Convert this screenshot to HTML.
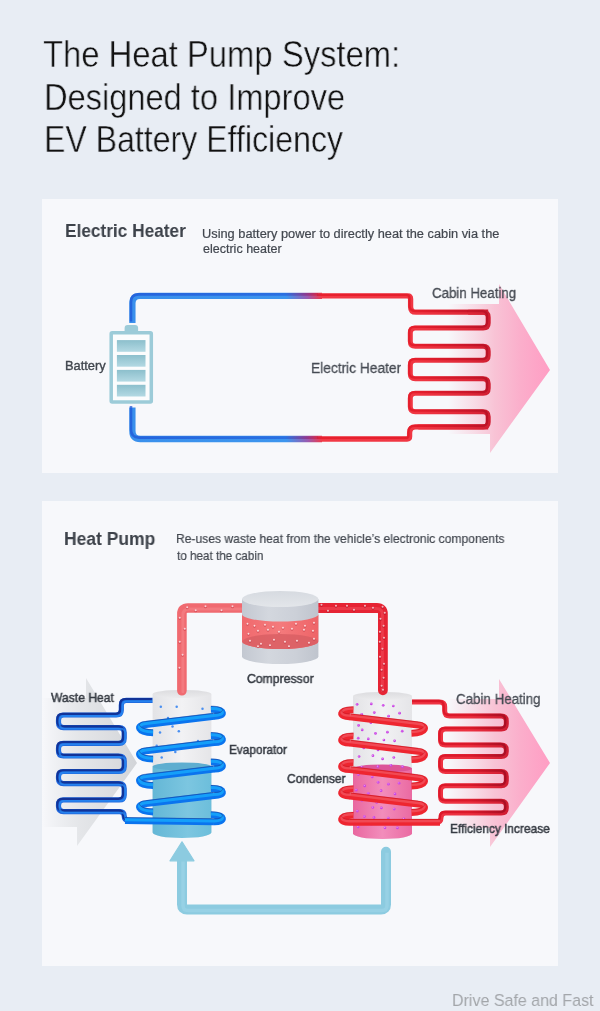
<!DOCTYPE html>
<html><head><meta charset="utf-8"><style>
html,body{margin:0;padding:0;background:#e8edf4;}
body{width:600px;height:1011px;background:#e8edf4;position:relative;overflow:hidden;font-family:"Liberation Sans",sans-serif;}
.panel{position:absolute;background:#f7f8fb;}
.t{position:absolute;white-space:nowrap;line-height:1;transform-origin:0 0;will-change:transform;}
svg{position:absolute;left:0;top:0;}
</style></head><body>
<div class="panel" style="left:42px;top:199px;width:516px;height:274px"></div>
<div class="panel" style="left:42px;top:501px;width:516px;height:465px"></div>
<svg width="600" height="1011" viewBox="0 0 600 1011"><defs><linearGradient id="gb" gradientUnits="userSpaceOnUse" x1="132" y1="0" x2="491" y2="0">
<stop offset="0" stop-color="#3a90ec"/><stop offset="0.43" stop-color="#3d95ee"/><stop offset="0.49" stop-color="#9a5ab0"/>
<stop offset="0.53" stop-color="#f23a46"/><stop offset="0.8" stop-color="#f03642"/><stop offset="0.93" stop-color="#e02838"/><stop offset="1" stop-color="#d01e32"/></linearGradient><linearGradient id="gd" gradientUnits="userSpaceOnUse" x1="132" y1="0" x2="491" y2="0">
<stop offset="0" stop-color="#1c52d6"/><stop offset="0.43" stop-color="#2260dc"/><stop offset="0.49" stop-color="#8a2a80"/>
<stop offset="0.53" stop-color="#e61c2a"/><stop offset="0.8" stop-color="#e21a28"/><stop offset="0.93" stop-color="#c81428"/><stop offset="1" stop-color="#b41024"/></linearGradient><linearGradient id="pink1" gradientUnits="userSpaceOnUse" x1="448" y1="0" x2="552" y2="0">
<stop offset="0" stop-color="#f8bdd0" stop-opacity="0"/><stop offset="0.25" stop-color="#f8c0d2" stop-opacity="0.5"/><stop offset="0.45" stop-color="#f8c0d3" stop-opacity="0.95"/>
<stop offset="0.7" stop-color="#fbaecb"/><stop offset="1" stop-color="#ff9cc3"/></linearGradient><linearGradient id="cell" x1="0" y1="0" x2="0" y2="1"><stop offset="0" stop-color="#8cbfcc"/><stop offset="1" stop-color="#b3d9e3"/></linearGradient><linearGradient id="gray" gradientUnits="userSpaceOnUse" x1="42" y1="0" x2="137" y2="0">
<stop offset="0" stop-color="#d6d8dc" stop-opacity="0"/><stop offset="0.4" stop-color="#dcdee1" stop-opacity="0.7"/><stop offset="1" stop-color="#d2d4d8"/></linearGradient><linearGradient id="rcb" gradientUnits="userSpaceOnUse" x1="412" y1="0" x2="508" y2="0">
<stop offset="0" stop-color="#f03846"/><stop offset="0.6" stop-color="#ec3040"/><stop offset="1" stop-color="#d01c32"/></linearGradient><linearGradient id="rcd" gradientUnits="userSpaceOnUse" x1="412" y1="0" x2="508" y2="0">
<stop offset="0" stop-color="#dc1426"/><stop offset="0.6" stop-color="#d81426"/><stop offset="1" stop-color="#a00c22"/></linearGradient><linearGradient id="whc" x1="0" y1="0" x2="1" y2="0"><stop offset="0" stop-color="#e3e3e6"/><stop offset="0.5" stop-color="#f2f2f4"/><stop offset="1" stop-color="#e5e5e8"/></linearGradient><linearGradient id="wtop" x1="0" y1="0" x2="0" y2="1"><stop offset="0" stop-color="#dcdcdf"/><stop offset="1" stop-color="#ebebed"/></linearGradient><linearGradient id="blc" x1="0" y1="0" x2="1" y2="0"><stop offset="0" stop-color="#64b7d6"/><stop offset="0.6" stop-color="#7cc6e0"/><stop offset="1" stop-color="#6cbedb"/></linearGradient><linearGradient id="pkc" x1="0" y1="0" x2="1" y2="0"><stop offset="0" stop-color="#e9679f"/><stop offset="0.5" stop-color="#f28dbb"/><stop offset="1" stop-color="#ea6aa2"/></linearGradient><linearGradient id="cylg" x1="0" y1="0" x2="1" y2="0"><stop offset="0" stop-color="#c3c8d1"/><stop offset="0.35" stop-color="#d3d7de"/><stop offset="0.7" stop-color="#ccd0d8"/><stop offset="1" stop-color="#bfc4cd"/></linearGradient><linearGradient id="cyltop" x1="0" y1="0" x2="0" y2="1"><stop offset="0" stop-color="#d6dae0"/><stop offset="1" stop-color="#e3e6ea"/></linearGradient><linearGradient id="redband" x1="0" y1="0" x2="1" y2="0"><stop offset="0" stop-color="#f06a6e"/><stop offset="0.5" stop-color="#f47a7c"/><stop offset="1" stop-color="#ee6468"/></linearGradient></defs>
<path d="M 499 284 L 550 370 L 490 453 L 490 434 L 448 434 L 448 304 L 499 304 Z" fill="url(#pink1)"/>
<path d="M 132.4 323 L 132.40 303.30 Q 132.40 295.80 139.90 295.80 L 322 295.8" fill="none" stroke="url(#gb)" stroke-width="6.3" stroke-linejoin="round" /><path d="M 132.4 323 L 132.40 303.30 Q 132.40 295.80 139.90 295.80 L 322 295.8" fill="none" stroke="url(#gd)" stroke-width="2.6" stroke-linejoin="round" transform="translate(-1.4,-1.4)" opacity="0.7" />
<path d="M 322 439 L 140.40 439.00 Q 132.40 439.00 132.40 431.00 L 132.4 407.5" fill="none" stroke="url(#gb)" stroke-width="6.3" stroke-linejoin="round" /><path d="M 322 439 L 140.40 439.00 Q 132.40 439.00 132.40 431.00 L 132.4 407.5" fill="none" stroke="url(#gd)" stroke-width="2.6" stroke-linejoin="round" transform="translate(-1.4,-1.4)" opacity="0.7" />
<path d="M 318 295.9 L 407.60 295.90 Q 410.60 295.90 410.60 298.90 L 410.60 306.70 Q 410.60 312.20 416.10 312.20 L 488.2 312.2" fill="none" stroke="url(#gb)" stroke-width="5.3" stroke-linejoin="round" /><path d="M 318 295.9 L 407.60 295.90 Q 410.60 295.90 410.60 298.90 L 410.60 306.70 Q 410.60 312.20 416.10 312.20 L 488.2 312.2" fill="none" stroke="url(#gd)" stroke-width="2.3" stroke-linejoin="round" transform="translate(-1.1,-1.1)" opacity="0.85" />
<path d="M 488.2 426.9 L 415.60 426.90 Q 409.60 426.90 409.60 432.90 L 409.60 436.50 Q 409.60 439.00 407.10 439.00 L 318 439" fill="none" stroke="url(#gb)" stroke-width="5.3" stroke-linejoin="round" /><path d="M 488.2 426.9 L 415.60 426.90 Q 409.60 426.90 409.60 432.90 L 409.60 436.50 Q 409.60 439.00 407.10 439.00 L 318 439" fill="none" stroke="url(#gd)" stroke-width="2.3" stroke-linejoin="round" transform="translate(-1.1,-1.1)" opacity="0.85" />
<path d="M 468.2 312.2 L 483.20 312.20 Q 488.20 312.20 488.20 317.20 L 488.20 322.90 Q 488.20 327.90 483.20 327.90 L 415.30 327.90 Q 410.30 327.90 410.30 332.90 L 410.30 341.30 Q 410.30 346.30 415.30 346.30 L 483.20 346.30 Q 488.20 346.30 488.20 351.30 L 488.20 355.30 Q 488.20 360.30 483.20 360.30 L 415.30 360.30 Q 410.30 360.30 410.30 365.30 L 410.30 373.70 Q 410.30 378.70 415.30 378.70 L 483.20 378.70 Q 488.20 378.70 488.20 383.70 L 488.20 388.30 Q 488.20 393.30 483.20 393.30 L 415.30 393.30 Q 410.30 393.30 410.30 398.30 L 410.30 406.70 Q 410.30 411.70 415.30 411.70 L 483.20 411.70 Q 488.20 411.70 488.20 416.70 L 488.20 422.00 Q 488.20 427.00 483.20 427.00 L 418.3 427" fill="none" stroke="url(#gb)" stroke-width="5" stroke-linejoin="round" /><path d="M 468.2 312.2 L 483.20 312.20 Q 488.20 312.20 488.20 317.20 L 488.20 322.90 Q 488.20 327.90 483.20 327.90 L 415.30 327.90 Q 410.30 327.90 410.30 332.90 L 410.30 341.30 Q 410.30 346.30 415.30 346.30 L 483.20 346.30 Q 488.20 346.30 488.20 351.30 L 488.20 355.30 Q 488.20 360.30 483.20 360.30 L 415.30 360.30 Q 410.30 360.30 410.30 365.30 L 410.30 373.70 Q 410.30 378.70 415.30 378.70 L 483.20 378.70 Q 488.20 378.70 488.20 383.70 L 488.20 388.30 Q 488.20 393.30 483.20 393.30 L 415.30 393.30 Q 410.30 393.30 410.30 398.30 L 410.30 406.70 Q 410.30 411.70 415.30 411.70 L 483.20 411.70 Q 488.20 411.70 488.20 416.70 L 488.20 422.00 Q 488.20 427.00 483.20 427.00 L 418.3 427" fill="none" stroke="url(#gd)" stroke-width="2.3" stroke-linejoin="round" transform="translate(-1.1,-1.1)" opacity="0.85" />
<rect x="124.6" y="325.1" width="13.5" height="9" rx="3" fill="#9ccbd8"/>
<rect x="111.2" y="332.8" width="40.1" height="69.2" rx="1" fill="#fbfcfd" stroke="#9ccbd8" stroke-width="3.5"/>
<rect x="116.9" y="340.1" width="28.6" height="11.7" fill="url(#cell)"/>
<rect x="116.9" y="355.0" width="28.6" height="11.7" fill="url(#cell)"/>
<rect x="116.9" y="369.9" width="28.6" height="11.7" fill="url(#cell)"/>
<rect x="116.9" y="384.8" width="28.6" height="11.7" fill="url(#cell)"/>
<path d="M 86 678 L 137 763 L 77 846 L 77 827 L 42 827 L 42 698 L 86 698 Z" fill="url(#gray)"/>
<path d="M 499 679 L 550 763 L 490 847 L 490 828 L 448 828 L 448 699 L 499 699 Z" fill="url(#pink1)"/>
<path d="M 153 700.3 L 126.30 700.30 Q 121.30 700.30 121.30 705.30 L 121.30 710.00 Q 121.30 715.00 116.30 715.00 L 63.50 715.00 Q 58.50 715.00 58.50 720.00 L 58.50 722.60 Q 58.50 727.60 63.50 727.60 L 119.20 727.60 Q 124.20 727.60 124.20 732.60 L 124.20 738.30 Q 124.20 743.30 119.20 743.30 L 63.50 743.30 Q 58.50 743.30 58.50 748.30 L 58.50 751.00 Q 58.50 756.00 63.50 756.00 L 119.20 756.00 Q 124.20 756.00 124.20 761.00 L 124.20 766.50 Q 124.20 771.50 119.20 771.50 L 63.50 771.50 Q 58.50 771.50 58.50 776.50 L 58.50 778.60 Q 58.50 783.60 63.50 783.60 L 119.20 783.60 Q 124.20 783.60 124.20 788.60 L 124.20 794.90 Q 124.20 799.90 119.20 799.90 L 63.50 799.90 Q 58.50 799.90 58.50 804.90 L 58.50 806.60 Q 58.50 811.60 63.50 811.60 L 119.70 811.60 Q 124.20 811.60 124.20 816.10 L 124.20 816.10 Q 124.20 820.60 128.70 820.60 L 140 820.6" fill="none" stroke="#1f66dc" stroke-width="5.2" stroke-linejoin="round" /><path d="M 153 700.3 L 126.30 700.30 Q 121.30 700.30 121.30 705.30 L 121.30 710.00 Q 121.30 715.00 116.30 715.00 L 63.50 715.00 Q 58.50 715.00 58.50 720.00 L 58.50 722.60 Q 58.50 727.60 63.50 727.60 L 119.20 727.60 Q 124.20 727.60 124.20 732.60 L 124.20 738.30 Q 124.20 743.30 119.20 743.30 L 63.50 743.30 Q 58.50 743.30 58.50 748.30 L 58.50 751.00 Q 58.50 756.00 63.50 756.00 L 119.20 756.00 Q 124.20 756.00 124.20 761.00 L 124.20 766.50 Q 124.20 771.50 119.20 771.50 L 63.50 771.50 Q 58.50 771.50 58.50 776.50 L 58.50 778.60 Q 58.50 783.60 63.50 783.60 L 119.20 783.60 Q 124.20 783.60 124.20 788.60 L 124.20 794.90 Q 124.20 799.90 119.20 799.90 L 63.50 799.90 Q 58.50 799.90 58.50 804.90 L 58.50 806.60 Q 58.50 811.60 63.50 811.60 L 119.70 811.60 Q 124.20 811.60 124.20 816.10 L 124.20 816.10 Q 124.20 820.60 128.70 820.60 L 140 820.6" fill="none" stroke="#0f2a8c" stroke-width="2.3" stroke-linejoin="round" transform="translate(-1.1,-1.1)" opacity="0.85" /><path d="M 153 700.3 L 126.30 700.30 Q 121.30 700.30 121.30 705.30 L 121.30 710.00 Q 121.30 715.00 116.30 715.00 L 63.50 715.00 Q 58.50 715.00 58.50 720.00 L 58.50 722.60 Q 58.50 727.60 63.50 727.60 L 119.20 727.60 Q 124.20 727.60 124.20 732.60 L 124.20 738.30 Q 124.20 743.30 119.20 743.30 L 63.50 743.30 Q 58.50 743.30 58.50 748.30 L 58.50 751.00 Q 58.50 756.00 63.50 756.00 L 119.20 756.00 Q 124.20 756.00 124.20 761.00 L 124.20 766.50 Q 124.20 771.50 119.20 771.50 L 63.50 771.50 Q 58.50 771.50 58.50 776.50 L 58.50 778.60 Q 58.50 783.60 63.50 783.60 L 119.20 783.60 Q 124.20 783.60 124.20 788.60 L 124.20 794.90 Q 124.20 799.90 119.20 799.90 L 63.50 799.90 Q 58.50 799.90 58.50 804.90 L 58.50 806.60 Q 58.50 811.60 63.50 811.60 L 119.70 811.60 Q 124.20 811.60 124.20 816.10 L 124.20 816.10 Q 124.20 820.60 128.70 820.60 L 140 820.6" fill="none" stroke="#2a8ef6" stroke-width="1.84" stroke-linejoin="round" transform="translate(0.9900000000000001,0.9900000000000001)" opacity="0.7" />
<path d="M 410 702 L 439.70 702.00 Q 444.70 702.00 444.70 707.00 L 444.70 711.00 Q 444.70 716.00 449.70 716.00 L 501.30 716.00 Q 506.30 716.00 506.30 721.00 L 506.30 724.00 Q 506.30 729.00 501.30 729.00 L 445.50 729.00 Q 440.50 729.00 440.50 734.00 L 440.50 740.00 Q 440.50 745.00 445.50 745.00 L 501.30 745.00 Q 506.30 745.00 506.30 750.00 L 506.30 751.50 Q 506.30 756.50 501.30 756.50 L 445.50 756.50 Q 440.50 756.50 440.50 761.50 L 440.50 766.60 Q 440.50 771.60 445.50 771.60 L 501.30 771.60 Q 506.30 771.60 506.30 776.60 L 506.30 780.80 Q 506.30 785.80 501.30 785.80 L 445.50 785.80 Q 440.50 785.80 440.50 790.80 L 440.50 796.30 Q 440.50 801.30 445.50 801.30 L 501.30 801.30 Q 506.30 801.30 506.30 806.30 L 506.30 808.00 Q 506.30 813.00 501.30 813.00 L 445.65 813.00 Q 441.00 813.00 441.00 817.65 L 441.00 817.65 Q 441.00 822.30 436.35 822.30 L 425 822.3" fill="none" stroke="url(#rcb)" stroke-width="5" stroke-linejoin="round" /><path d="M 410 702 L 439.70 702.00 Q 444.70 702.00 444.70 707.00 L 444.70 711.00 Q 444.70 716.00 449.70 716.00 L 501.30 716.00 Q 506.30 716.00 506.30 721.00 L 506.30 724.00 Q 506.30 729.00 501.30 729.00 L 445.50 729.00 Q 440.50 729.00 440.50 734.00 L 440.50 740.00 Q 440.50 745.00 445.50 745.00 L 501.30 745.00 Q 506.30 745.00 506.30 750.00 L 506.30 751.50 Q 506.30 756.50 501.30 756.50 L 445.50 756.50 Q 440.50 756.50 440.50 761.50 L 440.50 766.60 Q 440.50 771.60 445.50 771.60 L 501.30 771.60 Q 506.30 771.60 506.30 776.60 L 506.30 780.80 Q 506.30 785.80 501.30 785.80 L 445.50 785.80 Q 440.50 785.80 440.50 790.80 L 440.50 796.30 Q 440.50 801.30 445.50 801.30 L 501.30 801.30 Q 506.30 801.30 506.30 806.30 L 506.30 808.00 Q 506.30 813.00 501.30 813.00 L 445.65 813.00 Q 441.00 813.00 441.00 817.65 L 441.00 817.65 Q 441.00 822.30 436.35 822.30 L 425 822.3" fill="none" stroke="url(#rcd)" stroke-width="2.3" stroke-linejoin="round" transform="translate(-1,-1)" opacity="0.85" />
<path d="M 152.6 694 L 152.6 832.5 A 29.4 5.5 0 0 0 211.4 832.5 L 211.4 694 Z" fill="url(#whc)"/>
<ellipse cx="182" cy="694" rx="29.4" ry="4" fill="url(#wtop)"/>
<path d="M 152.6 766.5 L 152.6 832.5 A 29.4 5.5 0 0 0 211.4 832.5 L 211.4 766.5 Z" fill="url(#blc)"/>
<ellipse cx="182" cy="766.5" rx="29.4" ry="4" fill="#5eaed0"/>
<circle cx="160.8" cy="706.7" r="1.25" fill="#4a8ff0"/><circle cx="176.7" cy="706.7" r="1.25" fill="#4a8ff0"/><circle cx="202.5" cy="708.7" r="1.25" fill="#4a8ff0"/><circle cx="160" cy="732.5" r="1.25" fill="#4a8ff0"/><circle cx="178.8" cy="731.3" r="1.25" fill="#4a8ff0"/><circle cx="172.5" cy="726.5" r="1.25" fill="#4a8ff0"/><circle cx="175.3" cy="752" r="1.25" fill="#4a8ff0"/><circle cx="161.7" cy="757.5" r="1.25" fill="#4a8ff0"/><circle cx="156.7" cy="745.8" r="1.25" fill="#4a8ff0"/><circle cx="198" cy="741" r="1.25" fill="#4a8ff0"/><circle cx="190" cy="719.5" r="1.25" fill="#4a8ff0"/><circle cx="168" cy="718" r="1.25" fill="#4a8ff0"/>
<path d="M 353.0 696 L 353.0 833.5 A 29.5 5.5 0 0 0 412.0 833.5 L 412.0 696 Z" fill="url(#whc)"/>
<ellipse cx="382.5" cy="696" rx="29.5" ry="4" fill="url(#wtop)"/>
<path d="M 353.0 768.5 L 353.0 833.5 A 29.5 5.5 0 0 0 412.0 833.5 L 412.0 768.5 Z" fill="url(#pkc)"/>
<ellipse cx="382.5" cy="768.5" rx="29.5" ry="4" fill="#dc5598"/>
<circle cx="357.1" cy="704.3" r="1.35" fill="#c844e4"/><circle cx="356.8" cy="703.9" r="0.6" fill="#ec9cf6"/><circle cx="371.3" cy="703.9" r="1.35" fill="#c844e4"/><circle cx="371.0" cy="703.5" r="0.6" fill="#ec9cf6"/><circle cx="383.2" cy="705.3" r="1.35" fill="#c844e4"/><circle cx="382.9" cy="704.9" r="0.6" fill="#ec9cf6"/><circle cx="393.3" cy="706.0" r="1.35" fill="#c844e4"/><circle cx="393.0" cy="705.6" r="0.6" fill="#ec9cf6"/><circle cx="361.7" cy="714.3" r="1.35" fill="#c844e4"/><circle cx="361.4" cy="713.9" r="0.6" fill="#ec9cf6"/><circle cx="374.3" cy="712.6" r="1.35" fill="#c844e4"/><circle cx="374.0" cy="712.2" r="0.6" fill="#ec9cf6"/><circle cx="388.6" cy="716.2" r="1.35" fill="#c844e4"/><circle cx="388.3" cy="715.8000000000001" r="0.6" fill="#ec9cf6"/><circle cx="399.6" cy="713.2" r="1.35" fill="#c844e4"/><circle cx="399.3" cy="712.8000000000001" r="0.6" fill="#ec9cf6"/><circle cx="358.6" cy="725.4" r="1.35" fill="#c844e4"/><circle cx="358.3" cy="725.0" r="0.6" fill="#ec9cf6"/><circle cx="370.9" cy="722.7" r="1.35" fill="#c844e4"/><circle cx="370.59999999999997" cy="722.3000000000001" r="0.6" fill="#ec9cf6"/><circle cx="385.4" cy="720.9" r="1.35" fill="#c844e4"/><circle cx="385.09999999999997" cy="720.5" r="0.6" fill="#ec9cf6"/><circle cx="397.3" cy="722.1" r="1.35" fill="#c844e4"/><circle cx="397.0" cy="721.7" r="0.6" fill="#ec9cf6"/><circle cx="362.2" cy="729.9" r="1.35" fill="#c844e4"/><circle cx="361.9" cy="729.5" r="0.6" fill="#ec9cf6"/><circle cx="375.5" cy="733.4" r="1.35" fill="#c844e4"/><circle cx="375.2" cy="733.0" r="0.6" fill="#ec9cf6"/><circle cx="387.4" cy="732.2" r="1.35" fill="#c844e4"/><circle cx="387.09999999999997" cy="731.8000000000001" r="0.6" fill="#ec9cf6"/><circle cx="402.2" cy="731.2" r="1.35" fill="#c844e4"/><circle cx="401.9" cy="730.8000000000001" r="0.6" fill="#ec9cf6"/><circle cx="358.2" cy="738.2" r="1.35" fill="#c844e4"/><circle cx="357.9" cy="737.8000000000001" r="0.6" fill="#ec9cf6"/><circle cx="368.3" cy="738.9" r="1.35" fill="#c844e4"/><circle cx="368.0" cy="738.5" r="0.6" fill="#ec9cf6"/><circle cx="383.9" cy="740.0" r="1.35" fill="#c844e4"/><circle cx="383.59999999999997" cy="739.6" r="0.6" fill="#ec9cf6"/><circle cx="394.6" cy="740.8" r="1.35" fill="#c844e4"/><circle cx="394.3" cy="740.4" r="0.6" fill="#ec9cf6"/><circle cx="363.8" cy="748.0" r="1.35" fill="#c844e4"/><circle cx="363.5" cy="747.6" r="0.6" fill="#ec9cf6"/><circle cx="378.0" cy="750.0" r="1.35" fill="#c844e4"/><circle cx="377.7" cy="749.6" r="0.6" fill="#ec9cf6"/><circle cx="387.7" cy="749.4" r="1.35" fill="#c844e4"/><circle cx="387.4" cy="749.0" r="0.6" fill="#ec9cf6"/><circle cx="401.6" cy="750.9" r="1.35" fill="#c844e4"/><circle cx="401.3" cy="750.5" r="0.6" fill="#ec9cf6"/><circle cx="359.1" cy="756.5" r="1.35" fill="#c844e4"/><circle cx="358.8" cy="756.1" r="0.6" fill="#ec9cf6"/><circle cx="372.9" cy="755.7" r="1.35" fill="#c844e4"/><circle cx="372.59999999999997" cy="755.3000000000001" r="0.6" fill="#ec9cf6"/><circle cx="382.6" cy="758.9" r="1.35" fill="#c844e4"/><circle cx="382.3" cy="758.5" r="0.6" fill="#ec9cf6"/><circle cx="393.8" cy="757.5" r="1.35" fill="#c844e4"/><circle cx="393.5" cy="757.1" r="0.6" fill="#ec9cf6"/><circle cx="361.7" cy="767.0" r="1.35" fill="#c844e4"/><circle cx="361.4" cy="766.6" r="0.6" fill="#ec9cf6"/><circle cx="377.8" cy="766.6" r="1.35" fill="#c844e4"/><circle cx="377.5" cy="766.2" r="0.6" fill="#ec9cf6"/><circle cx="390.9" cy="765.3" r="1.35" fill="#c844e4"/><circle cx="390.59999999999997" cy="764.9" r="0.6" fill="#ec9cf6"/><circle cx="402.5" cy="766.7" r="1.35" fill="#c844e4"/><circle cx="402.2" cy="766.3000000000001" r="0.6" fill="#ec9cf6"/><circle cx="358.4" cy="774.6" r="1.35" fill="#c844e4"/><circle cx="358.09999999999997" cy="774.2" r="0.6" fill="#ec9cf6"/><circle cx="372.2" cy="777.0" r="1.35" fill="#c844e4"/><circle cx="371.9" cy="776.6" r="0.6" fill="#ec9cf6"/><circle cx="382.9" cy="775.6" r="1.35" fill="#c844e4"/><circle cx="382.59999999999997" cy="775.2" r="0.6" fill="#ec9cf6"/><circle cx="393.3" cy="775.8" r="1.35" fill="#c844e4"/><circle cx="393.0" cy="775.4" r="0.6" fill="#ec9cf6"/><circle cx="364.7" cy="785.9" r="1.35" fill="#c844e4"/><circle cx="364.4" cy="785.5" r="0.6" fill="#ec9cf6"/><circle cx="378.1" cy="782.3" r="1.35" fill="#c844e4"/><circle cx="377.8" cy="781.9" r="0.6" fill="#ec9cf6"/><circle cx="388.4" cy="784.2" r="1.35" fill="#c844e4"/><circle cx="388.09999999999997" cy="783.8000000000001" r="0.6" fill="#ec9cf6"/><circle cx="399.1" cy="783.2" r="1.35" fill="#c844e4"/><circle cx="398.8" cy="782.8000000000001" r="0.6" fill="#ec9cf6"/><circle cx="356.3" cy="790.1" r="1.35" fill="#c844e4"/><circle cx="356.0" cy="789.7" r="0.6" fill="#ec9cf6"/><circle cx="368.3" cy="793.3" r="1.35" fill="#c844e4"/><circle cx="368.0" cy="792.9" r="0.6" fill="#ec9cf6"/><circle cx="381.1" cy="790.7" r="1.35" fill="#c844e4"/><circle cx="380.8" cy="790.3000000000001" r="0.6" fill="#ec9cf6"/><circle cx="395.0" cy="793.9" r="1.35" fill="#c844e4"/><circle cx="394.7" cy="793.5" r="0.6" fill="#ec9cf6"/><circle cx="361.9" cy="800.3" r="1.35" fill="#c844e4"/><circle cx="361.59999999999997" cy="799.9" r="0.6" fill="#ec9cf6"/><circle cx="376.7" cy="802.5" r="1.35" fill="#c844e4"/><circle cx="376.4" cy="802.1" r="0.6" fill="#ec9cf6"/><circle cx="390.6" cy="802.4" r="1.35" fill="#c844e4"/><circle cx="390.3" cy="802.0" r="0.6" fill="#ec9cf6"/><circle cx="400.4" cy="800.2" r="1.35" fill="#c844e4"/><circle cx="400.09999999999997" cy="799.8000000000001" r="0.6" fill="#ec9cf6"/><circle cx="357.3" cy="811.1" r="1.35" fill="#c844e4"/><circle cx="357.0" cy="810.7" r="0.6" fill="#ec9cf6"/><circle cx="372.8" cy="807.5" r="1.35" fill="#c844e4"/><circle cx="372.5" cy="807.1" r="0.6" fill="#ec9cf6"/><circle cx="381.4" cy="807.9" r="1.35" fill="#c844e4"/><circle cx="381.09999999999997" cy="807.5" r="0.6" fill="#ec9cf6"/><circle cx="394.2" cy="809.1" r="1.35" fill="#c844e4"/><circle cx="393.9" cy="808.7" r="0.6" fill="#ec9cf6"/><circle cx="364.4" cy="816.6" r="1.35" fill="#c844e4"/><circle cx="364.09999999999997" cy="816.2" r="0.6" fill="#ec9cf6"/><circle cx="374.0" cy="817.4" r="1.35" fill="#c844e4"/><circle cx="373.7" cy="817.0" r="0.6" fill="#ec9cf6"/><circle cx="388.3" cy="818.1" r="1.35" fill="#c844e4"/><circle cx="388.0" cy="817.7" r="0.6" fill="#ec9cf6"/><circle cx="403.8" cy="818.8" r="1.35" fill="#c844e4"/><circle cx="403.5" cy="818.4" r="0.6" fill="#ec9cf6"/><circle cx="358.1" cy="827.0" r="1.35" fill="#c844e4"/><circle cx="357.8" cy="826.6" r="0.6" fill="#ec9cf6"/><circle cx="371.4" cy="824.2" r="1.35" fill="#c844e4"/><circle cx="371.09999999999997" cy="823.8000000000001" r="0.6" fill="#ec9cf6"/><circle cx="385.0" cy="827.8" r="1.35" fill="#c844e4"/><circle cx="384.7" cy="827.4" r="0.6" fill="#ec9cf6"/><circle cx="397.4" cy="827.9" r="1.35" fill="#c844e4"/><circle cx="397.09999999999997" cy="827.5" r="0.6" fill="#ec9cf6"/>
<path d="M 181.9 690.8 L 181.90 614.00 Q 181.90 608.00 187.90 608.00 L 250 608" fill="none" stroke="#f06a70" stroke-width="9.6" stroke-linecap="round"/>
<path d="M 181.9 690.8 L 181.90 614.00 Q 181.90 608.00 187.90 608.00 L 250 608" fill="none" stroke="#f58a8e" stroke-width="3" stroke-linecap="round" opacity="0.5" transform="translate(1,1)"/>
<path d="M 310 608 L 376.90 608.00 Q 382.90 608.00 382.90 614.00 L 382.9 690.3" fill="none" stroke="#e62434" stroke-width="9.8" stroke-linecap="round"/>
<path d="M 310 608 L 376.90 608.00 Q 382.90 608.00 382.90 614.00 L 382.9 690.3" fill="none" stroke="#f04a58" stroke-width="3" stroke-linecap="round" opacity="0.6" transform="translate(-0.5,0.5)"/>
<circle cx="187.2" cy="608.0" r="1.3" fill="#c8303c" opacity="0.6"/><circle cx="187.2" cy="607.3" r="1.04" fill="#fbd0d6"/><circle cx="195.7" cy="611.0" r="1.3" fill="#c8303c" opacity="0.6"/><circle cx="195.7" cy="610.3" r="1.04" fill="#fbd0d6"/><circle cx="205.5" cy="607.0" r="1.3" fill="#c8303c" opacity="0.6"/><circle cx="205.5" cy="606.3" r="1.04" fill="#fbd0d6"/><circle cx="221.5" cy="611.0" r="1.3" fill="#c8303c" opacity="0.6"/><circle cx="221.5" cy="610.3" r="1.04" fill="#fbd0d6"/><circle cx="232.5" cy="607.0" r="1.3" fill="#c8303c" opacity="0.6"/><circle cx="232.5" cy="606.3" r="1.04" fill="#fbd0d6"/><circle cx="179.8" cy="618.5" r="1.3" fill="#c8303c" opacity="0.6"/><circle cx="179.8" cy="617.8" r="1.04" fill="#fbd0d6"/><circle cx="184.8" cy="629.5" r="1.3" fill="#c8303c" opacity="0.6"/><circle cx="184.8" cy="628.8" r="1.04" fill="#fbd0d6"/><circle cx="179.8" cy="642.5" r="1.3" fill="#c8303c" opacity="0.6"/><circle cx="179.8" cy="641.8" r="1.04" fill="#fbd0d6"/><circle cx="182.6" cy="655.5" r="1.3" fill="#c8303c" opacity="0.6"/><circle cx="182.6" cy="654.8" r="1.04" fill="#fbd0d6"/><circle cx="179.5" cy="668.5" r="1.3" fill="#c8303c" opacity="0.6"/><circle cx="179.5" cy="667.8" r="1.04" fill="#fbd0d6"/>
<circle cx="321.5" cy="605.5" r="1.3" fill="#a81024" opacity="0.6"/><circle cx="321.5" cy="604.8" r="1.04" fill="#f7b4bc"/><circle cx="328" cy="611.5" r="1.3" fill="#a81024" opacity="0.6"/><circle cx="328" cy="610.8" r="1.04" fill="#f7b4bc"/><circle cx="336" cy="606.5" r="1.3" fill="#a81024" opacity="0.6"/><circle cx="336" cy="605.8" r="1.04" fill="#f7b4bc"/><circle cx="347" cy="606.5" r="1.3" fill="#a81024" opacity="0.6"/><circle cx="347" cy="605.8" r="1.04" fill="#f7b4bc"/><circle cx="354" cy="610.5" r="1.3" fill="#a81024" opacity="0.6"/><circle cx="354" cy="609.8" r="1.04" fill="#f7b4bc"/><circle cx="365" cy="606.5" r="1.3" fill="#a81024" opacity="0.6"/><circle cx="365" cy="605.8" r="1.04" fill="#f7b4bc"/><circle cx="373" cy="608.5" r="1.3" fill="#a81024" opacity="0.6"/><circle cx="373" cy="607.8" r="1.04" fill="#f7b4bc"/><circle cx="382.6" cy="607.5" r="1.3" fill="#a81024" opacity="0.6"/><circle cx="382.6" cy="606.8" r="1.04" fill="#f7b4bc"/><circle cx="384.8" cy="613.5" r="1.3" fill="#a81024" opacity="0.6"/><circle cx="384.8" cy="612.8" r="1.04" fill="#f7b4bc"/><circle cx="380.5" cy="619.5" r="1.3" fill="#a81024" opacity="0.6"/><circle cx="380.5" cy="618.8" r="1.04" fill="#f7b4bc"/><circle cx="383.6" cy="626.5" r="1.3" fill="#a81024" opacity="0.6"/><circle cx="383.6" cy="625.8" r="1.04" fill="#f7b4bc"/><circle cx="379.9" cy="632.5" r="1.3" fill="#a81024" opacity="0.6"/><circle cx="379.9" cy="631.8" r="1.04" fill="#f7b4bc"/><circle cx="384" cy="638.5" r="1.3" fill="#a81024" opacity="0.6"/><circle cx="384" cy="637.8" r="1.04" fill="#f7b4bc"/><circle cx="379.8" cy="642.5" r="1.3" fill="#a81024" opacity="0.6"/><circle cx="379.8" cy="641.8" r="1.04" fill="#f7b4bc"/><circle cx="382.4" cy="649.5" r="1.3" fill="#a81024" opacity="0.6"/><circle cx="382.4" cy="648.8" r="1.04" fill="#f7b4bc"/><circle cx="380" cy="657.5" r="1.3" fill="#a81024" opacity="0.6"/><circle cx="380" cy="656.8" r="1.04" fill="#f7b4bc"/><circle cx="384" cy="664.5" r="1.3" fill="#a81024" opacity="0.6"/><circle cx="384" cy="663.8" r="1.04" fill="#f7b4bc"/><circle cx="381.6" cy="670.5" r="1.3" fill="#a81024" opacity="0.6"/><circle cx="381.6" cy="669.8" r="1.04" fill="#f7b4bc"/><circle cx="383.6" cy="678.5" r="1.3" fill="#a81024" opacity="0.6"/><circle cx="383.6" cy="677.8" r="1.04" fill="#f7b4bc"/><circle cx="381.6" cy="686.5" r="1.3" fill="#a81024" opacity="0.6"/><circle cx="381.6" cy="685.8" r="1.04" fill="#f7b4bc"/><circle cx="383" cy="690.5" r="1.3" fill="#a81024" opacity="0.6"/><circle cx="383" cy="689.8" r="1.04" fill="#f7b4bc"/>
<path d="M 242.0 599 L 242.0 656.5 A 38.2 7.5 0 0 0 318.4 656.5 L 318.4 599 Z" fill="url(#cylg)"/>
<path d="M 242.0 614.3 A 38.2 7.3 0 0 0 318.4 614.3 L 318.4 641.5 A 38.2 7.5 0 0 1 242.0 641.5 Z" fill="url(#redband)"/>
<ellipse cx="280.2" cy="641.5" rx="37.900000000000006" ry="7.5" fill="#d95f64" opacity="0.85"/>
<ellipse cx="280.2" cy="599" rx="38.2" ry="8" fill="url(#cyltop)"/>
<circle cx="247.5" cy="624.5" r="1.2" fill="#c03844" opacity="0.6"/><circle cx="247.5" cy="623.8" r="0.96" fill="#ffdde0"/><circle cx="254.5" cy="626.5" r="1.2" fill="#c03844" opacity="0.6"/><circle cx="254.5" cy="625.8" r="0.96" fill="#ffdde0"/><circle cx="265" cy="625.5" r="1.2" fill="#c03844" opacity="0.6"/><circle cx="265" cy="624.8" r="0.96" fill="#ffdde0"/><circle cx="273" cy="627.5" r="1.2" fill="#c03844" opacity="0.6"/><circle cx="273" cy="626.8" r="0.96" fill="#ffdde0"/><circle cx="283" cy="628.5" r="1.2" fill="#c03844" opacity="0.6"/><circle cx="283" cy="627.8" r="0.96" fill="#ffdde0"/><circle cx="296" cy="624.5" r="1.2" fill="#c03844" opacity="0.6"/><circle cx="296" cy="623.8" r="0.96" fill="#ffdde0"/><circle cx="305" cy="626.5" r="1.2" fill="#c03844" opacity="0.6"/><circle cx="305" cy="625.8" r="0.96" fill="#ffdde0"/><circle cx="314" cy="623.5" r="1.2" fill="#c03844" opacity="0.6"/><circle cx="314" cy="622.8" r="0.96" fill="#ffdde0"/><circle cx="248.5" cy="634.5" r="1.2" fill="#c03844" opacity="0.6"/><circle cx="248.5" cy="633.8" r="0.96" fill="#ffdde0"/><circle cx="258" cy="631.5" r="1.2" fill="#c03844" opacity="0.6"/><circle cx="258" cy="630.8" r="0.96" fill="#ffdde0"/><circle cx="268" cy="630.5" r="1.2" fill="#c03844" opacity="0.6"/><circle cx="268" cy="629.8" r="0.96" fill="#ffdde0"/><circle cx="279" cy="632.5" r="1.2" fill="#c03844" opacity="0.6"/><circle cx="279" cy="631.8" r="0.96" fill="#ffdde0"/><circle cx="292" cy="629.5" r="1.2" fill="#c03844" opacity="0.6"/><circle cx="292" cy="628.8" r="0.96" fill="#ffdde0"/><circle cx="304" cy="630.5" r="1.2" fill="#c03844" opacity="0.6"/><circle cx="304" cy="629.8" r="0.96" fill="#ffdde0"/><circle cx="313" cy="631.5" r="1.2" fill="#c03844" opacity="0.6"/><circle cx="313" cy="630.8" r="0.96" fill="#ffdde0"/><circle cx="250" cy="641.5" r="1.2" fill="#c03844" opacity="0.6"/><circle cx="250" cy="640.8" r="0.96" fill="#ffdde0"/><circle cx="261" cy="644.5" r="1.2" fill="#c03844" opacity="0.6"/><circle cx="261" cy="643.8" r="0.96" fill="#ffdde0"/><circle cx="274" cy="640.5" r="1.2" fill="#c03844" opacity="0.6"/><circle cx="274" cy="639.8" r="0.96" fill="#ffdde0"/><circle cx="285" cy="642.5" r="1.2" fill="#c03844" opacity="0.6"/><circle cx="285" cy="641.8" r="0.96" fill="#ffdde0"/><circle cx="297" cy="641.5" r="1.2" fill="#c03844" opacity="0.6"/><circle cx="297" cy="640.8" r="0.96" fill="#ffdde0"/><circle cx="309" cy="643.5" r="1.2" fill="#c03844" opacity="0.6"/><circle cx="309" cy="642.8" r="0.96" fill="#ffdde0"/><circle cx="314" cy="639.5" r="1.2" fill="#c03844" opacity="0.6"/><circle cx="314" cy="638.8" r="0.96" fill="#ffdde0"/><circle cx="258" cy="647.0" r="1.2" fill="#c03844" opacity="0.6"/><circle cx="258" cy="646.3" r="0.96" fill="#ffdde0"/><circle cx="270" cy="646.0" r="1.2" fill="#c03844" opacity="0.6"/><circle cx="270" cy="645.3" r="0.96" fill="#ffdde0"/><circle cx="289" cy="647.0" r="1.2" fill="#c03844" opacity="0.6"/><circle cx="289" cy="646.3" r="0.96" fill="#ffdde0"/>
<path d="M 386 851.8 L 386.00 904.50 Q 386.00 909.50 381.00 909.50 L 187.00 909.50 Q 182.00 909.50 182.00 904.50 L 182 858" fill="none" stroke="#8ccbe0" stroke-width="10" stroke-linecap="round" stroke-linejoin="round"/>
<path d="M 386 851.8 L 386.00 904.50 Q 386.00 909.50 381.00 909.50 L 187.00 909.50 Q 182.00 909.50 182.00 904.50 L 182 858" fill="none" stroke="#9fd6e8" stroke-width="3.5" stroke-linejoin="round" opacity="0.6" transform="translate(1,1)"/>
<path d="M 182 841.8 L 194 860.8 L 170 860.8 Z" fill="#8ccbe0" stroke="#8ccbe0" stroke-width="1.2" stroke-linejoin="round"/>
<path d="M 210.9 709.3 C 226 709.0, 225.5 716.5999999999999, 214 716.3" fill="none" stroke="#0b74ee" stroke-width="6.8"/>
<path d="M 210.9 709.3 C 226 709.0, 225.5 716.5999999999999, 214 716.3" fill="none" stroke="#16a4fa" stroke-width="3" transform="translate(0,-0.9)" opacity="0.9"/>
<path d="M 210.9 709.3 C 226 709.0, 225.5 716.5999999999999, 214 716.3" fill="none" stroke="#1a3c8a" stroke-width="0.9" transform="translate(0,-3.1)" opacity="0.55"/>
<path d="M 214 716.3 L 146 724.5 C 136 725.2, 137 732.5, 153.1 732.8" fill="none" stroke="#0b74ee" stroke-width="6.8"/>
<path d="M 214 716.3 L 146 724.5 C 136 725.2, 137 732.5, 153.1 732.8" fill="none" stroke="#16a4fa" stroke-width="3" transform="translate(0,-0.9)" opacity="0.9"/>
<path d="M 214 716.3 L 146 724.5 C 136 725.2, 137 732.5, 153.1 732.8" fill="none" stroke="#1a3c8a" stroke-width="0.9" transform="translate(0,-3.1)" opacity="0.55"/>
<path d="M 210.9 735.6999999999999 C 226 735.4, 225.5 742.9999999999999, 214 742.6999999999999" fill="none" stroke="#0b74ee" stroke-width="6.8"/>
<path d="M 210.9 735.6999999999999 C 226 735.4, 225.5 742.9999999999999, 214 742.6999999999999" fill="none" stroke="#16a4fa" stroke-width="3" transform="translate(0,-0.9)" opacity="0.9"/>
<path d="M 210.9 735.6999999999999 C 226 735.4, 225.5 742.9999999999999, 214 742.6999999999999" fill="none" stroke="#1a3c8a" stroke-width="0.9" transform="translate(0,-3.1)" opacity="0.55"/>
<path d="M 214 742.6999999999999 L 146 750.9 C 136 751.6, 137 758.9, 153.1 759.1999999999999" fill="none" stroke="#0b74ee" stroke-width="6.8"/>
<path d="M 214 742.6999999999999 L 146 750.9 C 136 751.6, 137 758.9, 153.1 759.1999999999999" fill="none" stroke="#16a4fa" stroke-width="3" transform="translate(0,-0.9)" opacity="0.9"/>
<path d="M 214 742.6999999999999 L 146 750.9 C 136 751.6, 137 758.9, 153.1 759.1999999999999" fill="none" stroke="#1a3c8a" stroke-width="0.9" transform="translate(0,-3.1)" opacity="0.55"/>
<path d="M 210.9 762.0999999999999 C 226 761.8, 225.5 769.3999999999999, 214 769.0999999999999" fill="none" stroke="#0b74ee" stroke-width="6.8"/>
<path d="M 210.9 762.0999999999999 C 226 761.8, 225.5 769.3999999999999, 214 769.0999999999999" fill="none" stroke="#16a4fa" stroke-width="3" transform="translate(0,-0.9)" opacity="0.9"/>
<path d="M 210.9 762.0999999999999 C 226 761.8, 225.5 769.3999999999999, 214 769.0999999999999" fill="none" stroke="#1a3c8a" stroke-width="0.9" transform="translate(0,-3.1)" opacity="0.55"/>
<path d="M 214 769.0999999999999 L 146 777.3 C 136 778.0, 137 785.3, 153.1 785.5999999999999" fill="none" stroke="#0b74ee" stroke-width="6.8"/>
<path d="M 214 769.0999999999999 L 146 777.3 C 136 778.0, 137 785.3, 153.1 785.5999999999999" fill="none" stroke="#16a4fa" stroke-width="3" transform="translate(0,-0.9)" opacity="0.9"/>
<path d="M 214 769.0999999999999 L 146 777.3 C 136 778.0, 137 785.3, 153.1 785.5999999999999" fill="none" stroke="#1a3c8a" stroke-width="0.9" transform="translate(0,-3.1)" opacity="0.55"/>
<path d="M 210.9 788.5 C 226 788.2, 225.5 795.8, 214 795.5" fill="none" stroke="#0b74ee" stroke-width="6.8"/>
<path d="M 210.9 788.5 C 226 788.2, 225.5 795.8, 214 795.5" fill="none" stroke="#16a4fa" stroke-width="3" transform="translate(0,-0.9)" opacity="0.9"/>
<path d="M 210.9 788.5 C 226 788.2, 225.5 795.8, 214 795.5" fill="none" stroke="#1a3c8a" stroke-width="0.9" transform="translate(0,-3.1)" opacity="0.55"/>
<path d="M 214 795.5 L 146 803.7 C 136 804.4000000000001, 137 811.7, 153.1 812.0" fill="none" stroke="#0b74ee" stroke-width="6.8"/>
<path d="M 214 795.5 L 146 803.7 C 136 804.4000000000001, 137 811.7, 153.1 812.0" fill="none" stroke="#16a4fa" stroke-width="3" transform="translate(0,-0.9)" opacity="0.9"/>
<path d="M 214 795.5 L 146 803.7 C 136 804.4000000000001, 137 811.7, 153.1 812.0" fill="none" stroke="#1a3c8a" stroke-width="0.9" transform="translate(0,-3.1)" opacity="0.55"/>
<path d="M 210.9 814.9 C 226 814.6, 225.5 822.1999999999999, 214 821.9" fill="none" stroke="#0b74ee" stroke-width="6.8"/>
<path d="M 210.9 814.9 C 226 814.6, 225.5 822.1999999999999, 214 821.9" fill="none" stroke="#16a4fa" stroke-width="3" transform="translate(0,-0.9)" opacity="0.9"/>
<path d="M 210.9 814.9 C 226 814.6, 225.5 822.1999999999999, 214 821.9" fill="none" stroke="#1a3c8a" stroke-width="0.9" transform="translate(0,-3.1)" opacity="0.55"/>
<path d="M 214 821.9 L 125 820.6" fill="none" stroke="#0b74ee" stroke-width="6.8"/>
<path d="M 214 821.9 L 125 820.6" fill="none" stroke="#16a4fa" stroke-width="3" transform="translate(0,-0.9)" opacity="0.9"/>
<path d="M 214 821.9 L 125 820.6" fill="none" stroke="#1a3c8a" stroke-width="0.9" transform="translate(0,-3.1)" opacity="0.55"/>
<path d="M 353.5 709.8 C 338 709.5, 338.5 717.0999999999999, 350 716.8" fill="none" stroke="#ee2630" stroke-width="6.8"/>
<path d="M 353.5 709.8 C 338 709.5, 338.5 717.0999999999999, 350 716.8" fill="none" stroke="#f4606c" stroke-width="2.4" transform="translate(0,-1.2)" opacity="0.6"/>
<path d="M 353.5 709.8 C 338 709.5, 338.5 717.0999999999999, 350 716.8" fill="none" stroke="#b01020" stroke-width="0.9" transform="translate(0,-3.1)" opacity="0.4"/>
<path d="M 350 716.8 L 418 725.0 C 428 725.7, 427 733.0, 411.5 733.3" fill="none" stroke="#ee2630" stroke-width="6.8"/>
<path d="M 350 716.8 L 418 725.0 C 428 725.7, 427 733.0, 411.5 733.3" fill="none" stroke="#f4606c" stroke-width="2.4" transform="translate(0,-1.2)" opacity="0.6"/>
<path d="M 350 716.8 L 418 725.0 C 428 725.7, 427 733.0, 411.5 733.3" fill="none" stroke="#b01020" stroke-width="0.9" transform="translate(0,-3.1)" opacity="0.4"/>
<path d="M 353.5 736.1999999999999 C 338 735.9, 338.5 743.4999999999999, 350 743.1999999999999" fill="none" stroke="#ee2630" stroke-width="6.8"/>
<path d="M 353.5 736.1999999999999 C 338 735.9, 338.5 743.4999999999999, 350 743.1999999999999" fill="none" stroke="#f4606c" stroke-width="2.4" transform="translate(0,-1.2)" opacity="0.6"/>
<path d="M 353.5 736.1999999999999 C 338 735.9, 338.5 743.4999999999999, 350 743.1999999999999" fill="none" stroke="#b01020" stroke-width="0.9" transform="translate(0,-3.1)" opacity="0.4"/>
<path d="M 350 743.1999999999999 L 418 751.4 C 428 752.1, 427 759.4, 411.5 759.6999999999999" fill="none" stroke="#ee2630" stroke-width="6.8"/>
<path d="M 350 743.1999999999999 L 418 751.4 C 428 752.1, 427 759.4, 411.5 759.6999999999999" fill="none" stroke="#f4606c" stroke-width="2.4" transform="translate(0,-1.2)" opacity="0.6"/>
<path d="M 350 743.1999999999999 L 418 751.4 C 428 752.1, 427 759.4, 411.5 759.6999999999999" fill="none" stroke="#b01020" stroke-width="0.9" transform="translate(0,-3.1)" opacity="0.4"/>
<path d="M 353.5 762.5999999999999 C 338 762.3, 338.5 769.8999999999999, 350 769.5999999999999" fill="none" stroke="#ee2630" stroke-width="6.8"/>
<path d="M 353.5 762.5999999999999 C 338 762.3, 338.5 769.8999999999999, 350 769.5999999999999" fill="none" stroke="#f4606c" stroke-width="2.4" transform="translate(0,-1.2)" opacity="0.6"/>
<path d="M 353.5 762.5999999999999 C 338 762.3, 338.5 769.8999999999999, 350 769.5999999999999" fill="none" stroke="#b01020" stroke-width="0.9" transform="translate(0,-3.1)" opacity="0.4"/>
<path d="M 350 769.5999999999999 L 418 777.8 C 428 778.5, 427 785.8, 411.5 786.0999999999999" fill="none" stroke="#ee2630" stroke-width="6.8"/>
<path d="M 350 769.5999999999999 L 418 777.8 C 428 778.5, 427 785.8, 411.5 786.0999999999999" fill="none" stroke="#f4606c" stroke-width="2.4" transform="translate(0,-1.2)" opacity="0.6"/>
<path d="M 350 769.5999999999999 L 418 777.8 C 428 778.5, 427 785.8, 411.5 786.0999999999999" fill="none" stroke="#b01020" stroke-width="0.9" transform="translate(0,-3.1)" opacity="0.4"/>
<path d="M 353.5 789.0 C 338 788.7, 338.5 796.3, 350 796.0" fill="none" stroke="#ee2630" stroke-width="6.8"/>
<path d="M 353.5 789.0 C 338 788.7, 338.5 796.3, 350 796.0" fill="none" stroke="#f4606c" stroke-width="2.4" transform="translate(0,-1.2)" opacity="0.6"/>
<path d="M 353.5 789.0 C 338 788.7, 338.5 796.3, 350 796.0" fill="none" stroke="#b01020" stroke-width="0.9" transform="translate(0,-3.1)" opacity="0.4"/>
<path d="M 350 796.0 L 418 804.2 C 428 804.9000000000001, 427 812.2, 411.5 812.5" fill="none" stroke="#ee2630" stroke-width="6.8"/>
<path d="M 350 796.0 L 418 804.2 C 428 804.9000000000001, 427 812.2, 411.5 812.5" fill="none" stroke="#f4606c" stroke-width="2.4" transform="translate(0,-1.2)" opacity="0.6"/>
<path d="M 350 796.0 L 418 804.2 C 428 804.9000000000001, 427 812.2, 411.5 812.5" fill="none" stroke="#b01020" stroke-width="0.9" transform="translate(0,-3.1)" opacity="0.4"/>
<path d="M 353.5 815.4 C 338 815.1, 338.5 822.6999999999999, 350 822.4" fill="none" stroke="#ee2630" stroke-width="6.8"/>
<path d="M 353.5 815.4 C 338 815.1, 338.5 822.6999999999999, 350 822.4" fill="none" stroke="#f4606c" stroke-width="2.4" transform="translate(0,-1.2)" opacity="0.6"/>
<path d="M 353.5 815.4 C 338 815.1, 338.5 822.6999999999999, 350 822.4" fill="none" stroke="#b01020" stroke-width="0.9" transform="translate(0,-3.1)" opacity="0.4"/>
<path d="M 350 822.4 L 440 822.3" fill="none" stroke="#ee2630" stroke-width="6.8"/>
<path d="M 350 822.4 L 440 822.3" fill="none" stroke="#f4606c" stroke-width="2.4" transform="translate(0,-1.2)" opacity="0.6"/>
<path d="M 350 822.4 L 440 822.3" fill="none" stroke="#b01020" stroke-width="0.9" transform="translate(0,-3.1)" opacity="0.4"/>
</svg>
<div class="t" id="t0" style="left:43.00px;top:37.11px;font-size:36px;font-weight:400;color:#101010;transform:scaleX(0.9107);-webkit-text-stroke:0.5px #e8edf4;">The Heat Pump System:</div>
<div class="t" id="t1" style="left:44.00px;top:79.91px;font-size:36px;font-weight:400;color:#101010;transform:scaleX(0.9062);-webkit-text-stroke:0.5px #e8edf4;">Designed to Improve</div>
<div class="t" id="t2" style="left:44.00px;top:121.71px;font-size:36px;font-weight:400;color:#101010;transform:scaleX(0.8910);-webkit-text-stroke:0.5px #e8edf4;">EV Battery Efficiency</div>
<div class="t" id="t3" style="left:64.80px;top:220.71px;font-size:19px;font-weight:700;color:#3d424a;transform:scaleX(0.9078);">Electric Heater</div>
<div class="t" id="t4" style="left:202.00px;top:228.41px;font-size:12.5px;font-weight:400;color:#42474f;transform:scaleX(1.0239);-webkit-text-stroke:0.2px #42474f;">Using battery power to directly heat the cabin via the</div>
<div class="t" id="t5" style="left:203.00px;top:243.21px;font-size:12.5px;font-weight:400;color:#42474f;transform:scaleX(1.0016);-webkit-text-stroke:0.2px #42474f;">electric heater</div>
<div class="t" id="t6" style="left:65.20px;top:360.44px;font-size:12.7px;font-weight:400;color:#41464e;transform:scaleX(1.0128);-webkit-text-stroke:0.35px #41464e;">Battery</div>
<div class="t" id="t7" style="left:310.70px;top:360.07px;font-size:15.5px;font-weight:400;color:#464b53;transform:scaleX(0.8872);-webkit-text-stroke:0.3px #464b53;">Electric Heater</div>
<div class="t" id="t8" style="left:432.00px;top:285.13px;font-size:15.2px;font-weight:400;color:#464b53;transform:scaleX(0.8746);-webkit-text-stroke:0.3px #464b53;">Cabin Heating</div>
<div class="t" id="t9" style="left:63.55px;top:529.75px;font-size:18px;font-weight:700;color:#3d424a;transform:scaleX(0.9708);">Heat Pump</div>
<div class="t" id="t10" style="left:176.00px;top:532.22px;font-size:13.2px;font-weight:400;color:#42474f;transform:scaleX(0.9172);-webkit-text-stroke:0.2px #42474f;">Re-uses waste heat from the vehicle’s electronic components</div>
<div class="t" id="t11" style="left:177.00px;top:548.62px;font-size:13.2px;font-weight:400;color:#42474f;transform:scaleX(0.8854);-webkit-text-stroke:0.2px #42474f;">to heat the cabin</div>
<div class="t" id="t12" style="left:247.20px;top:673.13px;font-size:12.6px;font-weight:400;color:#363b43;transform:scaleX(0.9715);-webkit-text-stroke:0.5px #363b43;">Compressor</div>
<div class="t" id="t13" style="left:229.00px;top:743.61px;font-size:12.5px;font-weight:400;color:#363b43;transform:scaleX(0.9466);-webkit-text-stroke:0.5px #363b43;">Evaporator</div>
<div class="t" id="t14" style="left:287.20px;top:771.79px;font-size:13px;font-weight:400;color:#363b43;transform:scaleX(0.9200);-webkit-text-stroke:0.5px #363b43;">Condenser</div>
<div class="t" id="t15" style="left:51.00px;top:691.19px;font-size:13px;font-weight:400;color:#363b43;transform:scaleX(0.9326);-webkit-text-stroke:0.5px #363b43;">Waste Heat</div>
<div class="t" id="t16" style="left:456.00px;top:691.72px;font-size:14.5px;font-weight:400;color:#464b53;transform:scaleX(0.9203);-webkit-text-stroke:0.3px #464b53;">Cabin Heating</div>
<div class="t" id="t17" style="left:450.00px;top:822.39px;font-size:13px;font-weight:400;color:#363b43;transform:scaleX(0.9160);-webkit-text-stroke:0.5px #363b43;">Efficiency Increase</div>
<div class="t" id="t18" style="left:452.20px;top:991.86px;font-size:17.4px;font-weight:400;color:#a3a6aa;transform:scaleX(0.9208);">Drive Safe and Fast</div>
</body></html>
